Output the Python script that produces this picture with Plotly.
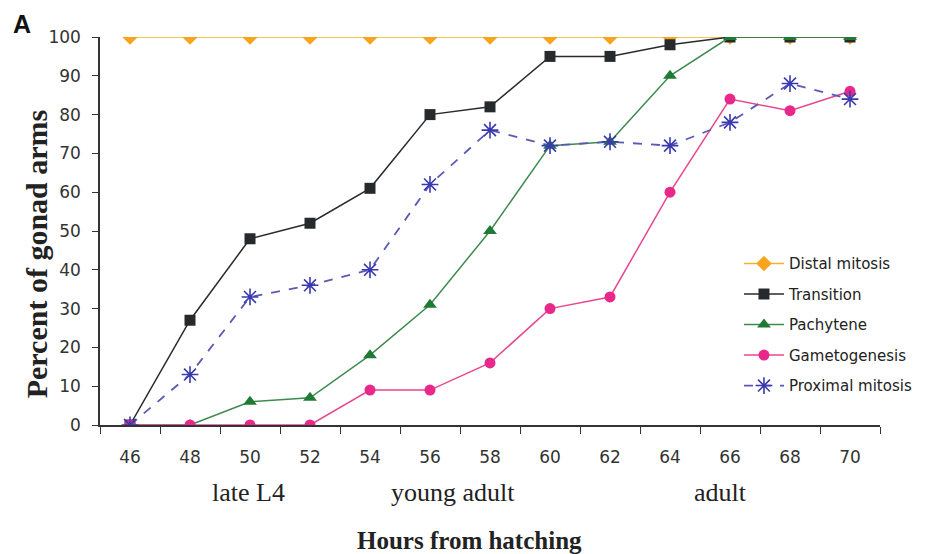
import plotly.graph_objects as go

hours = ["46", "48", "50", "52", "54", "56", "58", "60", "62", "64", "66", "68", "70"]
distal_mitosis = [100, 100, 100, 100, 100, 100, 100, 100, 100, 100, 100, 100, 100]
transition = [0, 27, 48, 52, 61, 80, 82, 95, 95, 98, 100, 100, 100]
pachytene = [0, 0, 6, 7, 18, 31, 50, 72, 73, 90, 100, 100, 100]
gametogenesis = [0, 0, 0, 0, 9, 9, 16, 30, 33, 60, 84, 81, 86]
proximal_mitosis = [0, 13, 33, 36, 40, 62, 76, 72, 73, 72, 78, 88, 84]
y_ticks = [0, 10, 20, 30, 40, 50, 60, 70, 80, 90, 100]

fig = go.Figure()

series = [
    ("Distal mitosis", distal_mitosis, "#F6AE2D", "#F7A51E", "diamond", 12, "solid", 1.5),
    ("Transition", transition, "#2A2A2A", "#262A2C", "square", 11, "solid", 1.5),
    ("Pachytene", pachytene, "#3E8A4E", "#1F7A36", "triangle-up", 12, "solid", 1.5),
    ("Gametogenesis", gametogenesis, "#E8478F", "#E8288A", "circle", 11, "solid", 1.5),
    ("Proximal mitosis", proximal_mitosis, "#5A5AB4", "#3A3AB0", "asterisk-open", 14, "dash", 1.8),
]

for name, vals, lc, mc, sym, ms, dash, lw in series:
    fig.add_trace(go.Scatter(
        x=hours, y=vals, name=name, mode="lines+markers",
        legendgroup=name,
        line=dict(color=lc, width=lw, dash=dash),
        marker=dict(symbol=sym, size=ms, color=mc,
                    line=dict(color=mc, width=1.6 if sym == "asterisk-open" else 0)),
    ))

sans = "DejaVu Sans, Verdana, sans-serif"
tick_font = dict(family=sans, size=17, color="#333333")
serif = "Liberation Serif, Times New Roman, serif"

# page has an 8px body margin, so the figure is drawn 8px smaller and offset
fig.update_layout(
    width=924, height=546,
    margin=dict(l=92, r=52, t=29, b=129),
    paper_bgcolor="white", plot_bgcolor="white",
    showlegend=True,
    legend=dict(
        x=0.8192, y=0.458, xanchor="left", yanchor="top",
        font=dict(family=sans, size=15, color="#222222"),
        bgcolor="rgba(255,255,255,0)", tracegroupgap=8, traceorder="grouped",
        itemwidth=40,
    ),
    xaxis=dict(
        type="category", categoryorder="array", categoryarray=hours,
        range=[-0.5, 12.5], tickson="boundaries",
        ticks="outside", ticklen=7, tickwidth=1.2, tickcolor="#333333",
        showline=True, linecolor="#333333", linewidth=1.5,
        showgrid=False, zeroline=False, tickfont=tick_font, ticklabelstandoff=16,
    ),
    yaxis=dict(
        range=[0, 100], tickvals=y_ticks, ticks="outside", ticklen=6,
        tickwidth=1.2, tickcolor="#333333",
        showline=True, linecolor="#333333", linewidth=1.5,
        showgrid=False, zeroline=False, tickfont=tick_font, ticklabelstandoff=8,
    ),
)

annotations = [
    dict(text="late L4", x=0.191, y=-0.173),
    dict(text="young adult", x=0.452, y=-0.173),
    dict(text="adult", x=0.795, y=-0.173),
]
for a in annotations:
    fig.add_annotation(text=a["text"], x=a["x"], y=a["y"], xref="paper", yref="paper",
                       showarrow=False, xanchor="center", yanchor="middle",
                       font=dict(family=serif, size=26, color="#222222"))

fig.add_annotation(text="<b>Hours from hatching</b>", x=0.474, y=-0.297,
                   xref="paper", yref="paper", showarrow=False,
                   xanchor="center", yanchor="middle",
                   font=dict(family=serif, size=25, color="#222222"))
fig.add_annotation(text="<b>Percent of gonad arms</b>", x=-0.082, y=0.44,
                   xref="paper", yref="paper", showarrow=False, textangle=-90,
                   xanchor="center", yanchor="middle",
                   font=dict(family=serif, size=30, color="#222222"))
fig.add_annotation(text="<b>A</b>", x=(22 - 100) / 780, y=(425 - 24) / 388,
                   xref="paper", yref="paper", showarrow=False,
                   xanchor="center", yanchor="middle",
                   font=dict(family="Liberation Sans, Arial, sans-serif",
                             size=25, color="#111111"))

fig.write_html("out.html")
